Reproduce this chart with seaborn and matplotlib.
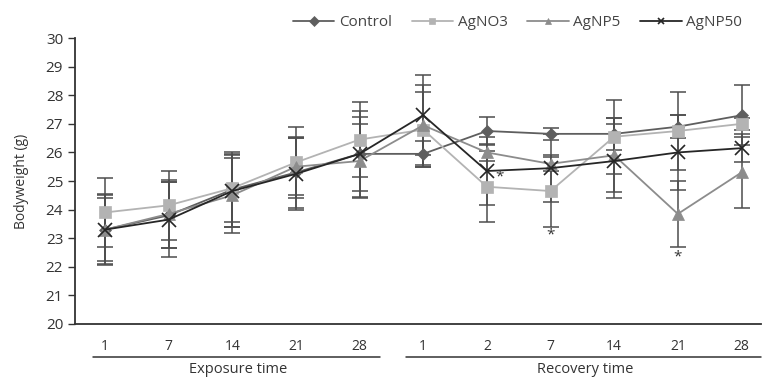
import numpy as np
import pandas as pd
import matplotlib
matplotlib.use("Agg")
import matplotlib.pyplot as plt
import seaborn as sns

# Sampling days: 5 during exposure, 6 during recovery
day_labels = ["1", "7", "14", "21", "28", "1", "2", "7", "14", "21", "28"]

control = [23.30, 23.80, 24.70, 25.30, 25.95, 25.95, 26.75, 26.65, 26.65, 26.90, 27.30]
agno3 = [23.90, 24.15, 24.75, 25.65, 26.45, 26.80, 24.80, 24.65, 26.55, 26.75, 27.00]
agnp5 = [23.30, 23.85, 24.50, 25.50, 25.70, 26.95, 26.00, 25.60, 25.90, 23.85, 25.30]
agnp50 = [23.30, 23.65, 24.65, 25.25, 25.95, 27.30, 25.35, 25.45, 25.70, 26.00, 26.15]

control_sd = [1.25, 1.15, 1.30, 1.25, 1.50, 0.45, 0.50, 0.20, 0.55, 0.40, 1.05]
agno3_sd = [1.20, 1.20, 1.20, 1.25, 1.30, 1.30, 1.25, 1.25, 1.30, 1.35, 0.20]
agnp5_sd = [1.20, 1.20, 1.30, 1.00, 1.30, 1.40, 0.30, 0.25, 1.30, 1.15, 1.25]
agnp50_sd = [1.10, 1.30, 1.25, 1.25, 1.30, 1.40, 1.20, 1.20, 1.30, 1.30, 0.50]

groups = ["Control", "AgNO3", "AgNP5", "AgNP50"]
means = {"Control": control, "AgNO3": agno3, "AgNP5": agnp5, "AgNP50": agnp50}
sds = {"Control": control_sd, "AgNO3": agno3_sd, "AgNP5": agnp5_sd, "AgNP50": agnp50_sd}

colors = {"Control": "#5e5e5e", "AgNO3": "#b3b3b3", "AgNP5": "#8c8c8c", "AgNP50": "#262626"}
markers = {"Control": "D", "AgNO3": "s", "AgNP5": "^", "AgNP50": "x"}
marker_sizes = {"Control": 6.5, "AgNO3": 8.5, "AgNP5": 8.5, "AgNP50": 10}

rows = []
for g in groups:
    for i, (m, s) in enumerate(zip(means[g], sds[g])):
        rows.append({"pos": i, "weight": m, "sd": s, "group": g})
df = pd.DataFrame(rows)

sns.set_theme(style="white")
plt.rcParams["font.family"] = ["Open Sans", "DejaVu Sans"]

fig = plt.figure(figsize=(7.62, 3.77), dpi=100)
ax = fig.add_axes([0.0984, 0.1406, 0.9006, 0.7584])

# Error bars (SD) drawn first, under the lines
for g in groups:
    sub = df[df.group == g]
    ax.errorbar(sub.pos, sub.weight, yerr=sub.sd, fmt="none", ecolor="#4d4d4d",
                elinewidth=1.1, capsize=6, capthick=1.1, zorder=2)

for g in groups:
    sub = df[df.group == g]
    sns.lineplot(data=sub, x="pos", y="weight", ax=ax, color=colors[g], lw=1.3,
                 marker=markers[g], markersize=marker_sizes[g],
                 markeredgewidth=1.2 if g == "AgNP50" else 0.5,
                 markeredgecolor=colors[g], label=g, zorder=3)

# Significance marks
def star(x, y):
    ax.text(x, y, "*", ha="center", va="center", fontsize=11, color="#333333", zorder=4)

star(6.2, agnp50[6] - 0.2)
star(7, agno3[7] - agno3_sd[7] - 0.3)
star(9, agnp5[9] - agnp5_sd[9] - 0.35)

ax.set_xlim(-0.47, 10.31)
ax.set_ylim(20, 30)
ax.set_yticks(range(20, 31))
ax.set_xticks(range(len(day_labels)))
ax.set_xticklabels(day_labels)
ax.set_xlabel("")
ax.set_ylabel("Bodyweight (g)", fontsize=10, color="#333333", labelpad=12)
ax.tick_params(axis="y", length=5, width=1, color="#333333", labelsize=11,
               labelcolor="#333333", direction="out", left=True)
ax.tick_params(axis="x", length=0, pad=11, labelsize=10, labelcolor="#333333")

for side in ["top", "right"]:
    ax.spines[side].set_visible(False)
for side in ["left", "bottom"]:
    ax.spines[side].set_color("#333333")
    ax.spines[side].set_linewidth(1.3)

# Period brackets under the day labels
trans = ax.get_xaxis_transform()
ax.plot([-0.19, 4.32], [-0.115, -0.115], transform=trans, color="#333333", lw=1.1, clip_on=False)
ax.plot([4.73, 10.31], [-0.115, -0.115], transform=trans, color="#333333", lw=1.1, clip_on=False)
ax.text(2.1, -0.158, "Exposure time", transform=trans, ha="center", va="center",
        fontsize=10.5, color="#333333")
ax.text(7.55, -0.158, "Recovery time", transform=trans, ha="center", va="center",
        fontsize=10.5, color="#333333")

leg = ax.legend(loc="center", bbox_to_anchor=(0.645, 1.055), ncol=4, frameon=False,
                fontsize=11, handlelength=2.7, columnspacing=1.3, handletextpad=0.3,
                labelcolor="#444444")
for h in leg.legend_handles:
    h.set_markersize(5)

fig.savefig("out.png", dpi=100)
